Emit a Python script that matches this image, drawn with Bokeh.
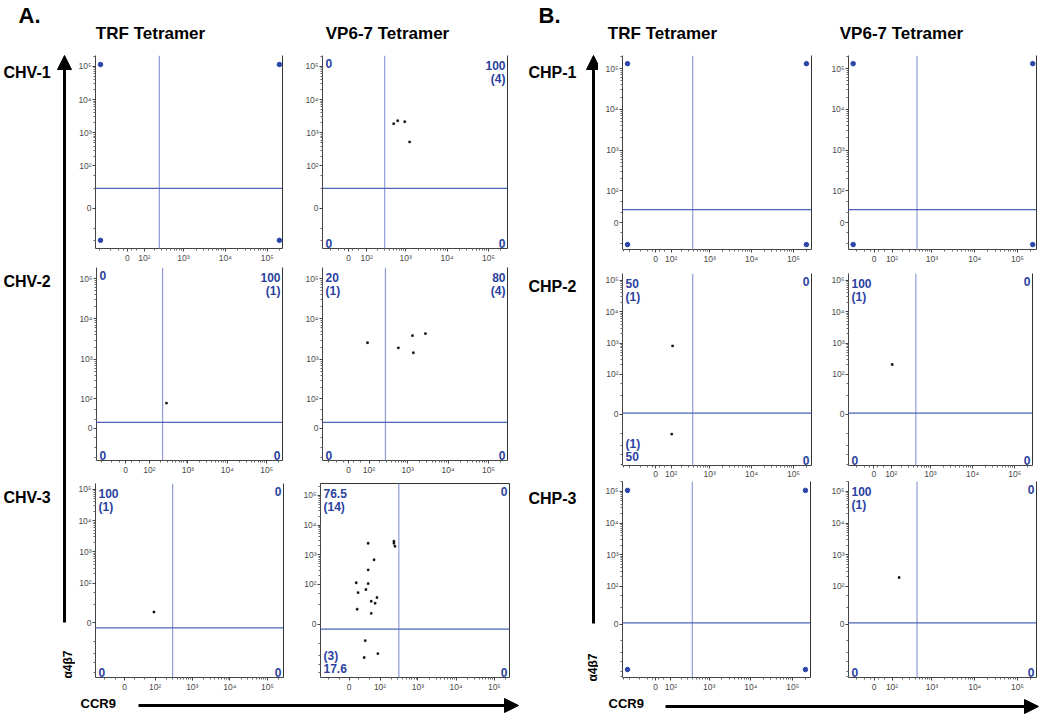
import numpy as np
from bokeh.plotting import figure
from bokeh.models import Range1d, FixedTicker, LinearAxis, Span, Arrow, NormalHead
from bokeh.layouts import row, column
from bokeh.embed import file_html
from bokeh.resources import INLINE
from bokeh.core.properties import value

# ---------------- data ----------------
group_labels = ["A.", "B."]
column_titles = ["TRF Tetramer", "VP6-7 Tetramer"]
row_labels_A = ["CHV-1", "CHV-2", "CHV-3"]
row_labels_B = ["CHP-1", "CHP-2", "CHP-3"]
x_title = "CCR9"
y_title = "α4β7"
tick_values = [0, 1e2, 1e3, 1e4, 1e5]
tick_labels = ["0", "10²", "10³", "10⁴", "10⁵"]

# events (CCR9, alpha4beta7 fluorescence)
a12_ccr9 = [514, 643, 952, 1250]
a12_a4b7 = [1875, 2310, 2160, 532]
a21_ccr9 = [286]
a21_a4b7 = [77]
a22_ccr9 = [90, 587, 1312, 1380, 2750]
a22_a4b7 = [2570, 1920, 3860, 1450, 4320]
a31_ccr9 = [93]
a31_a4b7 = [9.5]
a32_ccr9 = [45, 235, 235, 250, 68, 45, 45, 14, 38, 18, 82, 56, 73, 16, 56, 36, 33, 87]
a32_a4b7 = [2420, 2840, 2420, 1930, 670, 306, 105, 112, 66, 52, 35, 26, 22, 13, 8.5, -15, -60, -44]
b21_ccr9 = [111, 104]
b21_a4b7 = [810, -21]
b22_ccr9 = [107]
b22_a4b7 = [206]
b32_ccr9 = [160]
b32_a4b7 = [191]

# corner markers of empty plots
a11_corner_ccr9 = [-193, -193, 194000, 194000]
a11_corner_a4b7 = [114000, -49, 114000, -49]
b11_corner_ccr9 = [-232, -232, 202000, 202000]
b11_corner_a4b7 = [132000, -54, 132000, -54]
b12_corner_ccr9 = [-125, -125, 226000, 226000]
b12_corner_a4b7 = [132000, -54, 132000, -54]
b31_corner_ccr9 = [-232, -232, 202000, 202000]
b31_corner_a4b7 = [108000, -178, 108000, -178]

# quadrant statistics: upper-left, upper-right, lower-left, lower-right
a12_quads = ["0", "100\n(4)", "0", "0"]
a21_quads = ["0", "100\n(1)", "0", "0"]
a22_quads = ["20\n(1)", "80\n(4)", "0", "0"]
a31_quads = ["100\n(1)", "0", "0", "0"]
a32_quads = ["76.5\n(14)", "0", "(3)\n17.6", "0"]
b21_quads = ["50\n(1)", "0", "(1)\n50", "0"]
b22_quads = ["100\n(1)", "0", "0", "0"]
b32_quads = ["100\n(1)", "0", "0", "0"]

# quadrant gates (CCR9, alpha4beta7)
a11_gate = (260, 20)
a12_gate = (308, 20)
a21_gate = (227, 13.6)
a22_gate = (278, 13.6)
a31_gate = (299, -4)
a32_gate = (317, -3.5)
b11_gate = (389, 27)
b12_gate = (445, 27)
b21_gate = (389, 1)
b22_gate = (445, 1)
b31_gate = (389, 1)
b32_gate = (445, 1)

# biexponential display scales: (linear width, min, max)
a11_xs, a11_ys = (93, -260, 230000), (10.7, -87, 213000)
a12_xs, a12_ys = (85, -172, 287000), (10.7, -87, 213000)
a21_xs, a21_ys = (53, -139, 250000), (38.6, -118, 189000)
a22_xs, a22_ys = (69, -144, 294000), (38.6, -118, 189000)
a31_xs, a31_ys = (32, -93, 266000), (10.7, -300, 154000)
a32_xs, a32_ys = (32, -87, 248000), (9, -285, 253000)
b11_xs, b11_ys = (104, -312, 267000), (34, -74, 209000)
b12_xs, b12_ys = (90, -168, 277000), (34, -74, 209000)
b21_xs, b21_ys = (104, -312, 267000), (10.5, -223, 166000)
b22_xs, b22_ys = (90, -168, 265000), (10.5, -223, 166000)
b31_xs, b31_ys = (104, -312, 267000), (13, -318, 206000)
b32_xs, b32_ys = (90, -168, 277000), (13, -318, 206000)

# ---------------- helpers ----------------
FONT = "Liberation Sans"
BLUE = "#2b3f9f"
LN10 = np.log(10.0)


def T(v, w):
    return np.arcsinh(np.asarray(v, dtype=float) / w) / LN10


def Tf(v, w):
    return float(T(v, w))


def minor_list(w, lo, hi):
    vals = [-300, -200, -100, -50, -20, 20, 50]
    vals += [m * 10 ** k for k in (2, 3, 4) for m in range(2, 10)]
    vals += [2e5]
    return [Tf(v, w) for v in vals if lo < v < hi]


def style_axis(ax, standoff=1):
    ax.axis_line_color = "#444444"
    ax.axis_line_width = 1
    ax.major_tick_line_color = "#444444"
    ax.minor_tick_line_color = "#666666"
    ax.major_tick_in = 0
    ax.major_tick_out = 3
    ax.minor_tick_in = 0
    ax.minor_tick_out = 2
    ax.major_label_standoff = standoff
    ax.major_label_text_font = FONT
    ax.major_label_text_font_size = "8.5px"
    ax.major_label_text_color = "#4a4a4a"


def border_axis(p, side):
    ax = LinearAxis(ticker=FixedTicker(ticks=[]))
    ax.axis_line_color = "#333333"
    ax.major_tick_out = 0
    ax.minor_tick_out = 0
    ax.major_label_standoff = 0
    p.add_layout(ax, side)


def panel(w_px, h_px, borders, xs, ys, gate, ev=None, corners=None, quads=None,
          top=False, xstandoff=1):
    xw, xlo, xhi = xs
    yw, ylo, yhi = ys
    p = figure(width=w_px, height=h_px, output_backend="svg", toolbar_location=None,
               x_range=Range1d(Tf(xlo, xw), Tf(xhi, xw)),
               y_range=Range1d(Tf(ylo, yw), Tf(yhi, yw)))
    l, r, t, b = borders
    p.min_border_left, p.min_border_right = l, r
    p.min_border_top, p.min_border_bottom = t, b
    p.outline_line_color = None
    p.xgrid.visible = False
    p.ygrid.visible = False
    p.background_fill_color = "white"

    xax = p.xaxis[0]
    xax.ticker = FixedTicker(ticks=[Tf(v, xw) for v in tick_values],
                             minor_ticks=minor_list(xw, xlo, xhi))
    xax.major_label_overrides = {Tf(v, xw): s for v, s in zip(tick_values, tick_labels)}
    style_axis(xax, xstandoff)
    yax = p.yaxis[0]
    yax.ticker = FixedTicker(ticks=[Tf(v, yw) for v in tick_values],
                             minor_ticks=minor_list(yw, ylo, yhi))
    yax.major_label_overrides = {Tf(v, yw): s for v, s in zip(tick_values, tick_labels)}
    style_axis(yax)
    border_axis(p, "right")
    if top:
        border_axis(p, "above")

    gx, gy = gate
    p.add_layout(Span(location=Tf(gx, xw), dimension="height",
                      line_color="#8e9dd8", line_width=1.2))
    p.add_layout(Span(location=Tf(gy, yw), dimension="width",
                      line_color="#4d63b8", line_width=1.2))

    if corners is not None:
        cx, cy = corners
        p.scatter(T(cx, xw), T(cy, yw), marker="circle", size=4.5,
                  fill_color="#2b45a8", line_color="#2b45a8")
    if ev is not None:
        ex, ey = ev
        p.scatter(T(ex, xw), T(ey, yw), marker="square", size=1.9,
                  fill_color="black", line_color="black", line_width=0.5)
    if quads is not None:
        spots = [
            (xlo, yhi, "left", "top", 3, 3),
            (xhi, yhi, "right", "top", -2, 3),
            (xlo, ylo, "left", "bottom", 3, -1),
            (xhi, ylo, "right", "bottom", -2, -1),
        ]
        for s, (qx, qy, al, bl, xo, yo) in zip(quads, spots):
            p.text(x=[Tf(qx, xw)], y=[Tf(qy, yw)], text=[s],
                   text_align=al, text_baseline=bl, x_offset=xo, y_offset=yo,
                   text_font=value(FONT), text_font_style="bold",
                   text_font_size="12px", text_color=BLUE, text_line_height=0.95)
    return p


def deco(w, h):
    p = figure(width=w, height=h, output_backend="svg", toolbar_location=None,
               x_range=Range1d(0, w), y_range=Range1d(0, h),
               x_axis_location=None, y_axis_location=None, min_border=0)
    p.xgrid.visible = False
    p.ygrid.visible = False
    p.outline_line_color = None
    return p


def put_text(p, h, xs, ys, texts, size, align="left", baseline="middle", angle=0.0):
    p.text(x=xs, y=[h - y for y in ys], text=texts, angle=angle,
           text_align=align, text_baseline=baseline,
           text_font=value(FONT), text_font_style="bold",
           text_font_size=size, text_color="black")


def put_arrow(p, h, x0, y0, x1, y1):
    p.add_layout(Arrow(x_start=x0, y_start=h - y0, x_end=x1, y_end=h - y1,
                       line_width=3, line_color="black",
                       end=NormalHead(size=14, fill_color="black", line_color="black")))


H = 716

# ---------------- left strips ----------------
leftA = deco(75, H)
put_text(leftA, H, [18], [15], [group_labels[0]], "22px")
put_text(leftA, H, [3, 3, 3], [72, 281, 497], row_labels_A, "16px")
put_arrow(leftA, H, 64, 622, 64, 55)
put_text(leftA, H, [67], [664], [y_title], "12px", align="center", angle=np.pi / 2)

leftB = deco(78, H)
put_text(leftB, H, [18], [15], [group_labels[1]], "22px")
put_text(leftB, H, [8, 8, 8], [72, 286, 498], row_labels_B, "16px")
put_arrow(leftB, H, 73, 623, 73, 55)
put_text(leftB, H, [72], [667], [y_title], "12px", align="center", angle=np.pi / 2)

# ---------------- headers ----------------
headA = deco(445, 50)
put_text(headA, 50, [75, 312], [33, 33], column_titles, "17px", align="center")
headB = deco(444, 50)
put_text(headB, 50, [64, 303], [33, 33], column_titles, "17px", align="center")

# ---------------- bottom strips ----------------
stripA = deco(445, 22)
put_text(stripA, 22, [5], [9], [x_title], "13px")
put_arrow(stripA, 22, 63, 11, 443, 11)
stripB = deco(444, 22)
put_text(stripB, 22, [10], [9], [x_title], "13px")
put_arrow(stripB, 22, 67, 12, 440, 12)

# ---------------- panels ----------------
A11 = panel(225, 215, (20, 18, 5, 17), a11_xs, a11_ys, a11_gate,
            corners=(a11_corner_ccr9, a11_corner_a4b7))
A12 = panel(220, 215, (22, 13, 5, 17), a12_xs, a12_ys, a12_gate,
            ev=(a12_ccr9, a12_a4b7), quads=a12_quads)
A21 = panel(225, 213, (21, 18, 2, 18), a21_xs, a21_ys, a21_gate,
            ev=(a21_ccr9, a21_a4b7), quads=a21_quads)
A22 = panel(220, 213, (22, 13, 2, 18), a22_xs, a22_ys, a22_gate,
            ev=(a22_ccr9, a22_a4b7), quads=a22_quads)
A31 = panel(225, 216, (17, 17, 5, 16), a31_xs, a31_ys, a31_gate,
            ev=(a31_ccr9, a31_a4b7), quads=a31_quads)
A32 = panel(220, 216, (19, 11, 5, 16), a32_xs, a32_ys, a32_gate,
            ev=(a32_ccr9, a32_a4b7), quads=a32_quads, top=True)

B11 = panel(227, 216, (24, 14, 5, 17), b11_xs, b11_ys, b11_gate,
            corners=(b11_corner_ccr9, b11_corner_a4b7))
B12 = panel(217, 216, (23, 6, 5, 17), b12_xs, b12_ys, b12_gate,
            corners=(b12_corner_ccr9, b12_corner_a4b7))
B21 = panel(227, 215, (24, 14, 7, 13), b21_xs, b21_ys, b21_gate,
            ev=(b21_ccr9, b21_a4b7), quads=b21_quads, xstandoff=0)
B22 = panel(217, 215, (23, 10, 7, 13), b22_xs, b22_ys, b22_gate,
            ev=(b22_ccr9, b22_a4b7), quads=b22_quads, xstandoff=0)
B31 = panel(227, 213, (24, 15, 0, 17), b31_xs, b31_ys, b31_gate,
            corners=(b31_corner_ccr9, b31_corner_a4b7))
B32 = panel(217, 213, (23, 6, 0, 17), b32_xs, b32_ys, b32_gate,
            ev=(b32_ccr9, b32_a4b7), quads=b32_quads)

colA = column(headA, row(A11, A12, spacing=0), row(A21, A22, spacing=0),
              row(A31, A32, spacing=0), stripA, spacing=0)
colB = column(headB, row(B11, B12, spacing=0), row(B21, B22, spacing=0),
              row(B31, B32, spacing=0), stripB, spacing=0)
root = row(leftA, colA, leftB, colB, spacing=0)

open("out.html", "w").write(file_html(root, INLINE))
